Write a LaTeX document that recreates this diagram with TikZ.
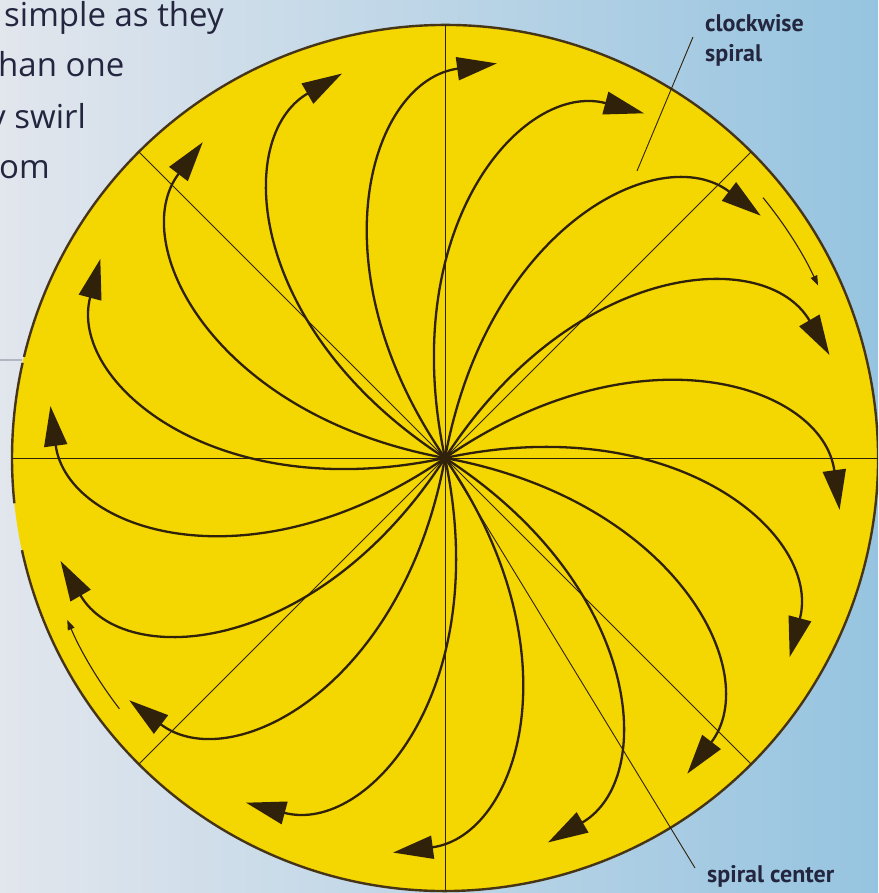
\documentclass[tikz,border=0pt]{standalone}
\usepackage{fontspec}
\setmainfont{Open Sans}
\newfontfamily\labelfont{PT Sans}
\usetikzlibrary{arrows.meta}
\definecolor{sunyellow}{RGB}{244,214,0}
\definecolor{rimline}{RGB}{70,52,22}
\definecolor{armline}{RGB}{48,34,10}
\definecolor{inktext}{RGB}{35,38,62}
\definecolor{bgleft}{RGB}{226,230,237}
\definecolor{bgmid}{RGB}{200,212,230}
\definecolor{bgright}{RGB}{150,196,224}
\definecolor{stubgrey}{RGB}{178,182,192}
\begin{document}
\begin{tikzpicture}[x=1pt,y=1pt,
  arm/.style={draw=armline, line width=2.3pt, -{Triangle[length=40pt,width=23pt]}},
  thinarrow/.style={draw=armline, line width=1.1pt, -{Triangle[length=10pt,width=7pt]}},
  guide/.style={draw=armline, line width=0.9pt},
  rim/.style={draw=rimline, line width=2.4pt},
  lbl/.style={font=\labelfont\bfseries\fontsize{24}{30}\selectfont, text=inktext, anchor=base west, inner sep=0pt},
  body/.style={font=\fontsize{33}{38}\selectfont, text=inktext, anchor=base west, inner sep=0pt}]
\useasboundingbox (0,0) rectangle (878,893);
\clip (0,0) rectangle (878,893);
\shade[left color=bgleft, middle color=bgmid, right color=bgright] (0,0) rectangle (878,893);
\coordinate (c) at (445,435);
% body text (cut off at the left)
\node[body] (t1) at (4,866) {simple as they};
\node[body] (t2) at (-2,816) {han one};
\node[body] (t3) at (-11,764) {y swirl};
\node[body] (t4) at (-1,714) {om};
\draw[stubgrey, line width=2pt] (0,533) -- (22,533);
% disc
\fill[sunyellow] (c) circle (433);
\draw[rim] ([shift={(192.3:433)}]c) arc[start angle=192.3, end angle=526.5, radius=433];
\draw[rim] ([shift={(167.3:433)}]c) arc[start angle=167.3, end angle=186, radius=433];
% guide lines
\foreach \g in {0,45,90,135} {
  \draw[guide] ([shift={(\g:433)}]c) -- ([shift={(\g+180:433)}]c);
}
% spiral arms
\foreach \k in {0,...,15} {
  \begin{scope}[shift={(c)}, rotate={-7.5+22.5*\k}]
    \draw[arm] (0,0) .. controls (175,158) and (365,122) .. (398,0);
  \end{scope}
}
% thin rotation arrows
\draw[thinarrow] ([shift={(39.3:411)}]c) arc[start angle=39.3, end angle=24.8, radius=411];
\draw[thinarrow] ([shift={(217.6:411)}]c) arc[start angle=217.6, end angle=203.2, radius=411];
% labels and pointers
\coordinate (p1) at (637,722);
\coordinate (p1e) at (693,856);
\draw[guide] (p1) -- (p1e);
\node[lbl] (l1) at (705,861) {clockwise};
\node[lbl] (l2) at (705,831) {spiral};
\coordinate (p2e) at (695,25);
\draw[guide] (c) -- (p2e);
\node[lbl] (l3) at (707,10) {spiral center};
\end{tikzpicture}
\end{document}
